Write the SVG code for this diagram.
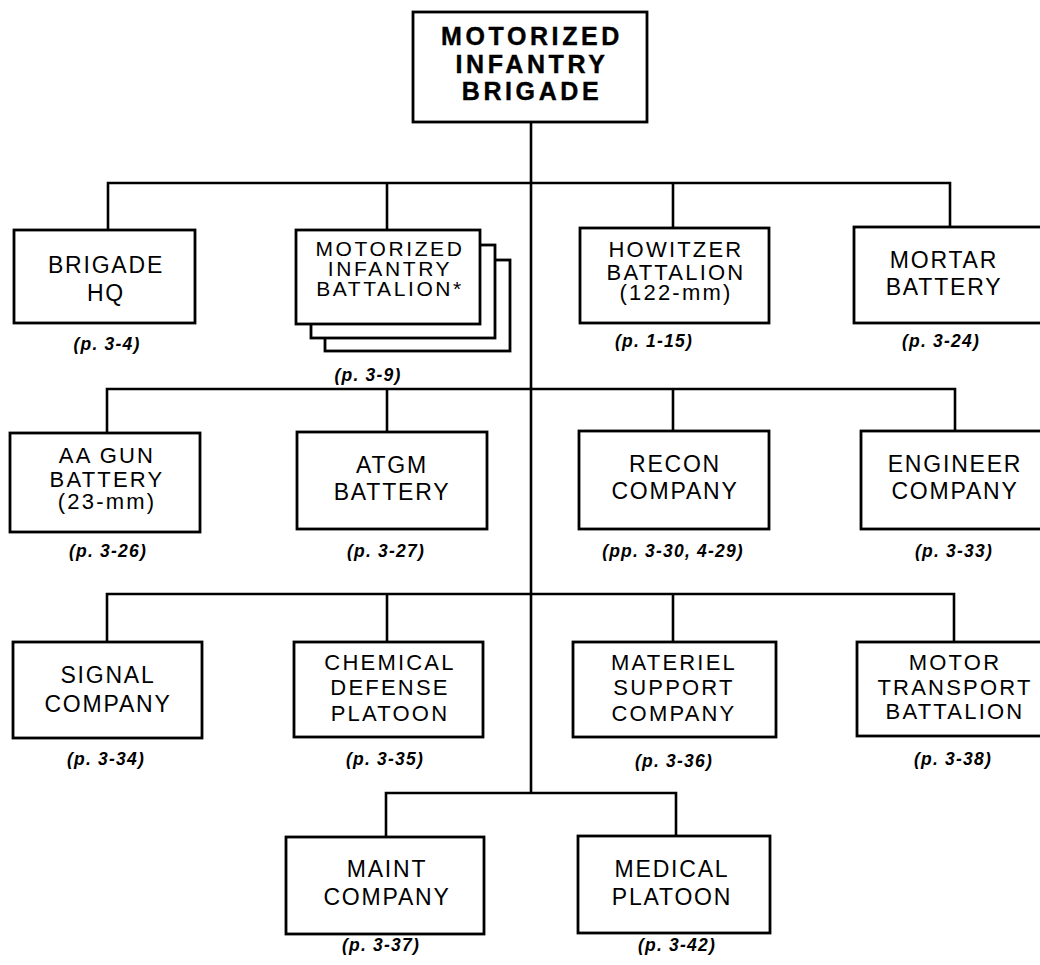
<svg xmlns="http://www.w3.org/2000/svg" width="1040" height="965" viewBox="0 0 1040 965">
<style>
.box{fill:#fff;stroke:#000;stroke-width:2.8}
.ln{fill:none;stroke:#000;stroke-width:2.6}
.t{font-family:"Liberation Sans",Arial,sans-serif;font-size:23px;letter-spacing:1.8px;text-anchor:middle;fill:#000}
.t3{font-family:"Liberation Sans",Arial,sans-serif;font-size:22px;letter-spacing:2.2px;text-anchor:middle;fill:#000}
.tb{font-family:"Liberation Sans",Arial,sans-serif;font-size:21px;letter-spacing:2.6px;text-anchor:middle;fill:#000}
.tt{font-family:"Liberation Sans",Arial,sans-serif;font-size:25px;font-weight:bold;letter-spacing:3.6px;text-anchor:middle;fill:#000;stroke:#000;stroke-width:0.4}
.r{font-family:"Liberation Sans",Arial,sans-serif;font-size:17.5px;font-style:italic;font-weight:bold;letter-spacing:1.2px;text-anchor:middle;fill:#000}
</style>
<rect width="1040" height="965" fill="#fff"/>
<g id="connectors">
<path class="ln" d="M531 122V793"/>
<path class="ln" d="M108 230V183H950V227M387 183V230M673 183V228"/>
<path class="ln" d="M107 433V389H955V431M387 389V432M673 389V431"/>
<path class="ln" d="M107 642V594H954V642M387 594V642M673 594V642"/>
<path class="ln" d="M386 837V793H676V836"/>
</g>
<g id="brigade">
<rect class="box" x="413" y="12" width="234" height="110"/>
<text class="tt" x="532" y="45">MOTORIZED</text>
<text class="tt" x="532" y="73">INFANTRY</text>
<text class="tt" x="532" y="100">BRIGADE</text>
</g>
<g id="brigade-hq">
<rect class="box" x="14" y="230" width="181" height="93"/>
<text class="t" x="106" y="273">BRIGADE</text>
<text class="t" x="106" y="301">HQ</text>
<text class="r" x="107" y="350">(p. 3-4)</text>
</g>
<g id="motorized-infantry-battalion">
<rect class="box" x="325" y="260" width="185" height="91"/>
<rect class="box" x="311" y="245" width="184" height="93"/>
<rect class="box" x="296" y="230" width="184" height="94"/>
<text class="tb" x="390" y="256">MOTORIZED</text>
<text class="tb" x="390" y="276">INFANTRY</text>
<text class="tb" x="390" y="296">BATTALION*</text>
<text class="r" x="368" y="381">(p. 3-9)</text>
</g>
<g id="howitzer-battalion">
<rect class="box" x="580" y="228" width="189" height="95"/>
<text class="t3" x="676" y="257">HOWITZER</text>
<text class="t3" x="676" y="280">BATTALION</text>
<text class="t3" x="676" y="300">(122-mm)</text>
<text class="r" x="654" y="347">(p. 1-15)</text>
</g>
<g id="mortar-battery">
<rect class="box" x="854" y="227" width="192" height="96"/>
<text class="t" x="944" y="268">MORTAR</text>
<text class="t" x="944" y="295">BATTERY</text>
<text class="r" x="941" y="347">(p. 3-24)</text>
</g>
<g id="aa-gun-battery">
<rect class="box" x="10" y="433" width="190" height="99"/>
<text class="t3" x="107" y="463">AA GUN</text>
<text class="t3" x="107" y="487">BATTERY</text>
<text class="t3" x="107" y="509">(23-mm)</text>
<text class="r" x="108" y="557">(p. 3-26)</text>
</g>
<g id="atgm-battery">
<rect class="box" x="297" y="432" width="190" height="97"/>
<text class="t" x="392" y="473">ATGM</text>
<text class="t" x="392" y="500">BATTERY</text>
<text class="r" x="386" y="557">(p. 3-27)</text>
</g>
<g id="recon-company">
<rect class="box" x="579" y="431" width="190" height="98"/>
<text class="t" x="675" y="472">RECON</text>
<text class="t" x="675" y="499">COMPANY</text>
<text class="r" x="673" y="557">(pp. 3-30, 4-29)</text>
</g>
<g id="engineer-company">
<rect class="box" x="861" y="431" width="188" height="98"/>
<text class="t" x="955" y="472">ENGINEER</text>
<text class="t" x="955" y="499">COMPANY</text>
<text class="r" x="954" y="557">(p. 3-33)</text>
</g>
<g id="signal-company">
<rect class="box" x="13" y="642" width="189" height="96"/>
<text class="t" x="108" y="683">SIGNAL</text>
<text class="t" x="108" y="712">COMPANY</text>
<text class="r" x="106" y="765">(p. 3-34)</text>
</g>
<g id="chemical-defense-platoon">
<rect class="box" x="294" y="642" width="189" height="95"/>
<text class="t3" x="390" y="670">CHEMICAL</text>
<text class="t3" x="390" y="695">DEFENSE</text>
<text class="t3" x="390" y="721">PLATOON</text>
<text class="r" x="385" y="765">(p. 3-35)</text>
</g>
<g id="materiel-support-company">
<rect class="box" x="573" y="642" width="203" height="95"/>
<text class="t3" x="674" y="670">MATERIEL</text>
<text class="t3" x="674" y="695">SUPPORT</text>
<text class="t3" x="674" y="721">COMPANY</text>
<text class="r" x="674" y="767">(p. 3-36)</text>
</g>
<g id="motor-transport-battalion">
<rect class="box" x="857" y="642" width="194" height="94"/>
<text class="t3" x="955" y="670">MOTOR</text>
<text class="t3" x="955" y="695">TRANSPORT</text>
<text class="t3" x="955" y="719">BATTALION</text>
<text class="r" x="953" y="765">(p. 3-38)</text>
</g>
<g id="maint-company">
<rect class="box" x="286" y="837" width="198" height="97"/>
<text class="t" x="387" y="877">MAINT</text>
<text class="t" x="387" y="905">COMPANY</text>
<text class="r" x="381" y="951">(p. 3-37)</text>
</g>
<g id="medical-platoon">
<rect class="box" x="578" y="836" width="192" height="97"/>
<text class="t" x="672" y="877">MEDICAL</text>
<text class="t" x="672" y="905">PLATOON</text>
<text class="r" x="677" y="951">(p. 3-42)</text>
</g>
</svg>
